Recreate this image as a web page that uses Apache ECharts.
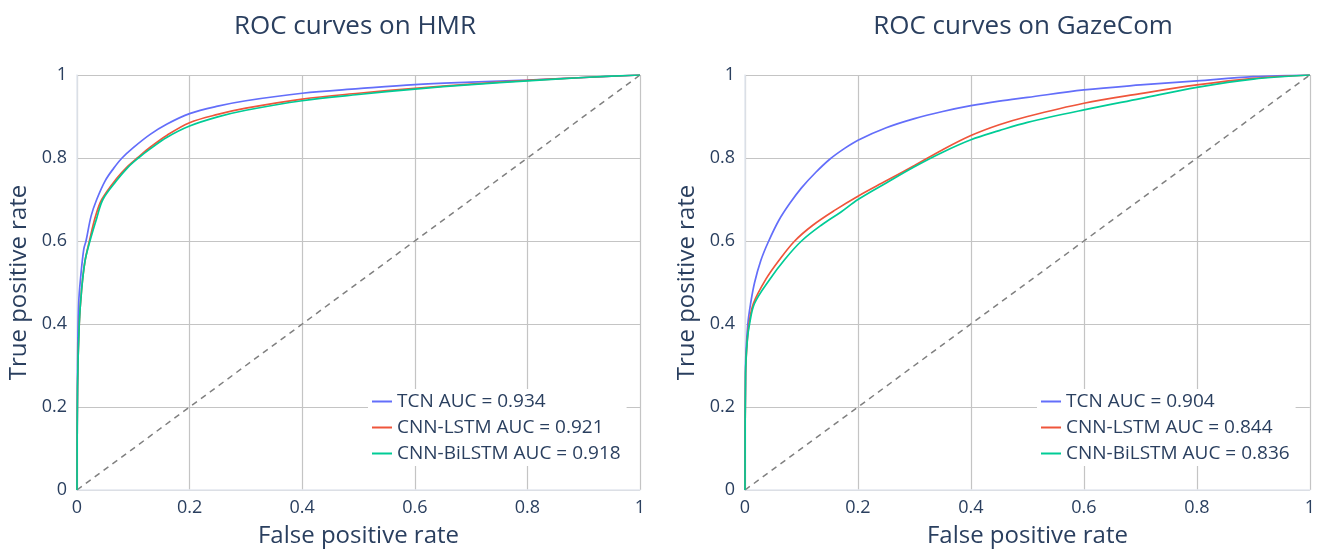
<!DOCTYPE html>
<html>
<head>
<meta charset="utf-8">
<script src="https://cdn.jsdelivr.net/npm/echarts@6/dist/echarts.min.js"></script>
<style>
  html, body { margin: 0; padding: 0; background: #fff; }
  #chart { width: 1318px; height: 553px; }
</style>
</head>
<body>
<div id="chart"></div>
<script>
// ROC points: [false positive rate, true positive rate]
const hmrTcn = [[0,0],[0.001,0.3],[0.003,0.45],[0.007,0.52],[0.012,0.58],[0.016,0.6],[0.025,0.66],[0.035,0.7],[0.05,0.745],[0.065,0.775],[0.08,0.8],[0.1,0.825],[0.13,0.857],[0.16,0.882],[0.2,0.907],[0.25,0.925],[0.3,0.938],[0.4,0.956],[0.5,0.967],[0.6,0.977],[0.7,0.983],[0.8,0.988],[0.9,0.994],[1,1]]
const hmrLstm = [[0,0],[0.001,0.25],[0.004,0.4],[0.008,0.48],[0.014,0.55],[0.022,0.6],[0.033,0.66],[0.044,0.7],[0.07,0.75],[0.09,0.78],[0.107,0.8],[0.13,0.826],[0.16,0.855],[0.2,0.885],[0.25,0.905],[0.3,0.92],[0.4,0.942],[0.5,0.956],[0.6,0.968],[0.7,0.978],[0.8,0.987],[0.9,0.994],[1,1]]
const hmrBiLstm = [[0,0],[0.001,0.25],[0.004,0.4],[0.008,0.48],[0.014,0.55],[0.023,0.6],[0.035,0.655],[0.046,0.7],[0.07,0.745],[0.09,0.777],[0.109,0.8],[0.13,0.822],[0.16,0.85],[0.2,0.877],[0.25,0.899],[0.3,0.915],[0.4,0.938],[0.5,0.953],[0.6,0.966],[0.7,0.977],[0.8,0.986],[0.9,0.994],[1,1]]

const gazeTcn = [[0,0],[0.001,0.3],[0.005,0.4],[0.01,0.45],[0.017,0.5],[0.028,0.553],[0.041,0.597],[0.06,0.65],[0.08,0.692],[0.1,0.728],[0.125,0.765],[0.15,0.797],[0.175,0.822],[0.2,0.843],[0.25,0.873],[0.3,0.895],[0.35,0.912],[0.4,0.926],[0.45,0.937],[0.5,0.946],[0.6,0.964],[0.7,0.976],[0.8,0.986],[0.9,0.996],[1,1]]
const gazeLstm = [[0,0],[0.001,0.28],[0.004,0.36],[0.007,0.4],[0.015,0.45],[0.037,0.508],[0.06,0.553],[0.088,0.6],[0.12,0.638],[0.16,0.675],[0.2,0.708],[0.25,0.745],[0.3,0.782],[0.35,0.82],[0.4,0.854],[0.45,0.88],[0.5,0.9],[0.6,0.932],[0.7,0.955],[0.8,0.976],[0.9,0.992],[1,1]]
const gazeBiLstm = [[0,0],[0.001,0.28],[0.004,0.36],[0.008,0.4],[0.017,0.45],[0.044,0.508],[0.07,0.555],[0.1,0.6],[0.135,0.638],[0.17,0.67],[0.2,0.7],[0.25,0.74],[0.3,0.779],[0.35,0.814],[0.4,0.844],[0.45,0.866],[0.5,0.886],[0.6,0.916],[0.7,0.943],[0.8,0.97],[0.9,0.99],[1,1]]

const diagonal = [[0,0],[1,1]]

const hmrNames = ["TCN AUC = 0.934", "CNN-LSTM AUC = 0.921", "CNN-BiLSTM AUC = 0.918"]
const gazeNames = ["TCN AUC = 0.904", "CNN-LSTM AUC = 0.844", "CNN-BiLSTM AUC = 0.836"]
const colors = ["#636efa", "#ef553b", "#00cc96"]

const font = "Open Sans"
const textColor = "#2a3f5f"

const chart = echarts.init(document.getElementById("chart"))

const makeAxis = (idx, name, isY) => ({
  type: "value",
  gridIndex: idx,
  min: 0,
  max: 1,
  interval: 0.2,
  name: name,
  nameLocation: "middle",
  nameGap: isY ? 46 : 34,
  nameTextStyle: { fontFamily: font, fontSize: 24, color: textColor },
  axisLine: { show: true, onZero: false, lineStyle: { color: "#e3e8f0", width: 1.5 } },
  axisTick: { show: false },
  axisLabel: { fontFamily: font, fontSize: 18, color: textColor, margin: isY ? 10 : 9 },
  splitLine: { show: true, lineStyle: { color: "#c4c4c4", width: 1.2 } }
})

const curve = (name, data, color, idx) => ({
  name: name,
  type: "line",
  xAxisIndex: idx,
  yAxisIndex: idx,
  data: data,
  showSymbol: false,
  smooth: 0.35,
  lineStyle: { color: color, width: 1.7 },
  itemStyle: { color: color },
  z: 3
})

const dashed = idx => ({
  type: "line",
  xAxisIndex: idx,
  yAxisIndex: idx,
  data: diagonal,
  showSymbol: false,
  silent: true,
  lineStyle: { color: "#808080", width: 1.5, type: [6, 5] },
  z: 2
})

const legend = (left, names) => ({
  data: names,
  left: left,
  top: 389,
  orient: "vertical",
  backgroundColor: "#fff",
  padding: [3, 6, 3, 4],
  itemGap: 7,
  itemWidth: 20,
  itemHeight: 2,
  icon: "rect",
  textStyle: { fontFamily: font, fontSize: 19, color: textColor }
})

chart.setOption({
  animation: false,
  title: [
    { text: "ROC curves on HMR", left: 350, top: 9, textAlign: "center",
      textStyle: { fontFamily: font, fontSize: 26, fontWeight: "normal", color: textColor } },
    { text: "ROC curves on GazeCom", left: 1018, top: 9, textAlign: "center",
      textStyle: { fontFamily: font, fontSize: 26, fontWeight: "normal", color: textColor } }
  ],
  legend: [legend(368, hmrNames), legend(1037, gazeNames)],
  grid: [
    { left: 77, right: 678, top: 75, bottom: 61 },
    { left: 745, right: 8, top: 75, bottom: 61 }
  ],
  xAxis: [makeAxis(0, "False positive rate", false), makeAxis(1, "False positive rate", false)],
  yAxis: [makeAxis(0, "True positive rate", true), makeAxis(1, "True positive rate", true)],
  series: [
    dashed(0),
    curve(hmrNames[0], hmrTcn, colors[0], 0),
    curve(hmrNames[1], hmrLstm, colors[1], 0),
    curve(hmrNames[2], hmrBiLstm, colors[2], 0),
    dashed(1),
    curve(gazeNames[0], gazeTcn, colors[0], 1),
    curve(gazeNames[1], gazeLstm, colors[1], 1),
    curve(gazeNames[2], gazeBiLstm, colors[2], 1)
  ]
})
</script>
</body>
</html>
